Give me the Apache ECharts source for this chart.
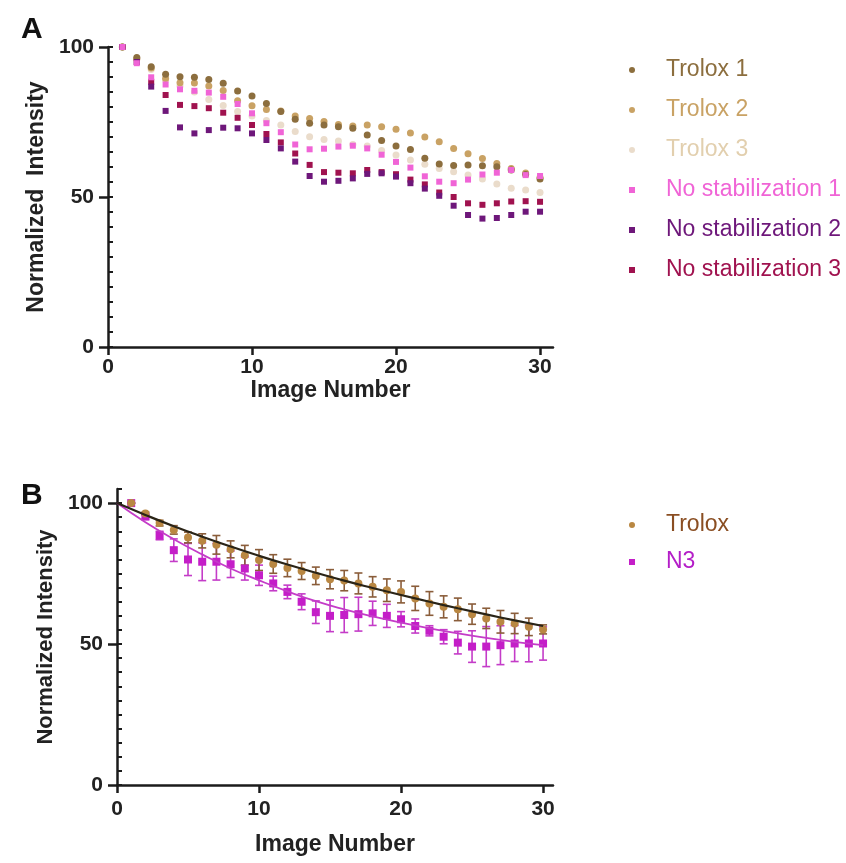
<!DOCTYPE html>
<html>
<head>
<meta charset="utf-8">
<script src="https://cdn.jsdelivr.net/npm/echarts@6/dist/echarts.min.js"></script>
<style>
  html, body { margin: 0; padding: 0; background: #fff; }
  #chart { width: 846px; height: 863px; }
</style>
</head>
<body>
<div id="chart"></div>
<script>
// x values (image number)
const imageNumbers = [1, 2, 3, 4, 5, 6, 7, 8, 9, 10, 11, 12, 13, 14, 15, 16, 17, 18, 19, 20, 21, 22, 23, 24, 25, 26, 27, 28, 29, 30]

// panel A - individual runs
const trolox1 = [100, 96.5, 93.4, 90.9, 90.1, 89.9, 89.2, 87.9, 85.3, 83.7, 81.2, 78.5, 75.9, 74.6, 74.0, 73.4, 72.9, 70.7, 68.8, 67.0, 65.8, 62.9, 61.0, 60.5, 60.7, 60.4, 60.1, 59.0, 57.5, 56.0]
const trolox2 = [100, 96.0, 93.0, 89.5, 88.1, 88.0, 87.0, 85.5, 82.1, 80.4, 79.2, 78.7, 77.0, 76.2, 75.2, 74.2, 73.7, 74.0, 73.4, 72.6, 71.3, 70.0, 68.4, 66.2, 64.4, 62.8, 61.2, 59.5, 58.0, 56.5]
const trolox3 = [100, 96.0, 92.5, 89.0, 87.0, 85.0, 82.5, 80.5, 78.5, 77.0, 75.5, 74.0, 71.8, 70.1, 69.2, 68.7, 67.5, 67.0, 65.5, 64.0, 62.3, 60.9, 59.5, 58.4, 57.3, 56.0, 54.3, 52.9, 52.3, 51.5]
const noStab1 = [100, 94.6, 89.9, 87.5, 85.9, 85.4, 84.8, 83.4, 81.0, 77.9, 74.6, 71.6, 67.5, 65.9, 66.1, 66.8, 67.1, 66.2, 64.1, 61.7, 59.8, 56.9, 55.1, 54.6, 55.8, 57.5, 58.1, 59.0, 57.3, 57.0]
const noStab2 = [100, 95.0, 86.8, 78.7, 73.2, 71.2, 72.3, 73.1, 72.9, 71.2, 69.0, 66.2, 61.8, 57.0, 55.1, 55.4, 56.2, 57.7, 57.9, 56.8, 54.6, 52.8, 50.4, 47.1, 44.0, 42.8, 43.0, 44.0, 45.1, 45.1]
const noStab3 = [100, 95.0, 88.4, 84.0, 80.7, 80.3, 79.6, 78.1, 76.4, 74.0, 71.0, 68.2, 64.5, 60.7, 58.3, 58.1, 57.9, 59.0, 58.3, 57.6, 55.8, 54.2, 51.5, 50.0, 47.9, 47.4, 47.9, 48.5, 48.6, 48.4]

// panel B - mean +/- error
const troloxMean = [100, 96.3, 92.9, 90.5, 87.8, 86.6, 85.2, 83.6, 81.5, 79.8, 78.4, 77.0, 75.9, 74.2, 73.0, 72.5, 71.5, 70.3, 69.1, 68.5, 66.2, 64.4, 63.2, 62.3, 60.6, 59.1, 57.9, 57.3, 56.1, 55.2]
const troloxErr = [0, 0.5, 1.0, 1.5, 1.9, 2.5, 3.3, 3.0, 3.5, 3.7, 3.3, 3.1, 3.0, 3.1, 3.4, 3.6, 3.7, 3.6, 4.0, 3.9, 4.3, 4.2, 3.9, 4.0, 3.6, 3.6, 4.0, 3.6, 3.1, 1.6]
const n3Mean = [100, 95.2, 88.5, 83.3, 80.0, 79.2, 79.2, 78.3, 76.8, 74.4, 71.5, 68.5, 65.0, 61.3, 60.0, 60.3, 60.6, 60.9, 60.0, 58.8, 56.4, 54.7, 52.6, 50.5, 49.1, 49.1, 49.6, 50.2, 50.2, 50.2]
const n3Err = [0, 0.8, 1.5, 4.0, 5.7, 6.7, 6.5, 4.7, 4.1, 3.6, 2.6, 2.4, 2.8, 4.0, 5.6, 6.2, 6.0, 4.3, 4.1, 2.7, 2.5, 1.8, 2.5, 4.0, 5.6, 7.1, 6.9, 6.4, 6.5, 5.9]

// fitted decay curves
const fitX = [0, 2, 4, 6, 8, 10, 12, 14, 16, 18, 20, 22, 24, 26, 28, 30]
const troloxFit = [100, 95.8, 91.8, 88.1, 84.6, 81.3, 78.2, 75.3, 72.5, 69.9, 67.4, 65.0, 62.7, 60.5, 58.4, 56.4]
const n3Fit = [100, 93.2, 87.2, 81.8, 76.8, 72.6, 68.7, 65.2, 62.3, 59.8, 57.6, 55.6, 53.8, 52.2, 50.8, 49.6]

// tick values
const yLabels = [0, 50, 100]
const yMinorA = [0, 5, 10, 15, 20, 25, 30, 35, 40, 45, 50, 55, 60, 65, 70, 75, 80, 85, 90, 95, 100]
const yMinorB = [0, 5, 10, 15, 20, 25, 30, 35, 40, 45, 50, 55, 60, 65, 70, 75, 80, 85, 90, 95, 100, 105]
const xLabels = [0, 10, 20, 30]

const FONT = '"Liberation Sans", Arial, sans-serif'
const AXIS_COLOR = '#1b1b1b'

const colors = {
  trolox1: '#8c6e3e',
  trolox2: '#c9a264',
  trolox3: '#eadccb',
  noStab1: '#f064d6',
  noStab2: '#6e177a',
  noStab3: '#a0124f',
  trolox: '#b98742',
  troloxBar: '#8a5d3a',
  troloxLine: '#2a2417',
  n3: '#c41ec8',
  n3Line: '#c43cc8'
}

const pairs = (xs, ys) => xs.map((x, i) => [x, ys[i]])
const bars = (xs, m, e) => xs.map((x, i) => [x, m[i] - e[i], m[i] + e[i]])

function errorBar(color) {
  return function (params, api) {
    const x = api.value(0)
    const lo = api.coord([x, api.value(1)])
    const hi = api.coord([x, api.value(2)])
    const cap = 4
    const style = { stroke: color, lineWidth: 1.6 }
    return {
      type: 'group',
      children: [
        { type: 'line', shape: { x1: lo[0], y1: lo[1], x2: hi[0], y2: hi[1] }, style },
        { type: 'line', shape: { x1: lo[0] - cap, y1: lo[1], x2: lo[0] + cap, y2: lo[1] }, style },
        { type: 'line', shape: { x1: hi[0] - cap, y1: hi[1], x2: hi[0] + cap, y2: hi[1] }, style }
      ]
    }
  }
}

function xAxis(gridIndex, max, nameGap, margin) {
  return {
    type: 'value', gridIndex, min: 0, max,
    name: 'Image Number', nameLocation: 'middle', nameGap,
    nameTextStyle: { fontFamily: FONT, fontWeight: 'bold', fontSize: 23, color: '#222' },
    axisLine: { onZero: false, lineStyle: { color: AXIS_COLOR, width: 2.5 } },
    axisTick: { length: 8, lineStyle: { color: AXIS_COLOR, width: 2.5 }, customValues: xLabels },
    axisLabel: { customValues: xLabels, margin, fontFamily: FONT, fontWeight: 'bold', fontSize: 21, color: '#222' },
    splitLine: { show: false }
  }
}

function yAxisMajor(gridIndex, max, nameGap, name, size) {
  return {
    type: 'value', gridIndex, min: 0, max,
    name, nameLocation: 'middle', nameGap,
    nameTextStyle: { fontFamily: FONT, fontWeight: 'bold', fontSize: size, color: '#222' },
    axisLine: { onZero: false, lineStyle: { color: AXIS_COLOR, width: 2.5 } },
    axisTick: { length: 9, lineStyle: { color: AXIS_COLOR, width: 2.5 }, customValues: yLabels },
    axisLabel: { customValues: yLabels, margin: 14, fontFamily: FONT, fontWeight: 'bold', fontSize: 21, color: '#222' },
    splitLine: { show: false }
  }
}

// second axis only for the short ticks
function yAxisMinor(gridIndex, max, ticks) {
  return {
    type: 'value', gridIndex, min: 0, max,
    axisLine: { show: false },
    axisTick: { length: 5, lineStyle: { color: AXIS_COLOR, width: 2 }, customValues: ticks },
    axisLabel: { show: false },
    splitLine: { show: false }
  }
}

function legendItem(name, color) {
  return { name, textStyle: { color } }
}

const legendText = { fontFamily: FONT, fontSize: 23, lineHeight: 24, padding: [0, 0, 0, 26] }

const option = {
  animation: false,
  backgroundColor: '#fff',
  title: [
    { text: 'A', left: 16, top: 10, textStyle: { fontFamily: FONT, fontWeight: 'bold', fontSize: 30, color: '#111' } },
    { text: 'B', left: 16, top: 476, textStyle: { fontFamily: FONT, fontWeight: 'bold', fontSize: 30, color: '#111' } }
  ],
  grid: [
    { left: 108, top: 47, width: 445, height: 300 },
    { left: 117, top: 489, width: 436, height: 296 }
  ],
  xAxis: [xAxis(0, 30.9, 26, 10), xAxis(1, 30.7, 48, 14)],
  yAxis: [
    yAxisMajor(0, 100, 58, 'Normalized  Intensity', 23),
    yAxisMinor(0, 100, yMinorA),
    yAxisMajor(1, 105, 50, 'Normalized Intensity', 22),
    yAxisMinor(1, 105, yMinorB)
  ],
  legend: [
    {
      orient: 'vertical', left: 624, top: 53, itemWidth: 6, itemHeight: 6, itemGap: 16,
      textStyle: legendText,
      data: [
        legendItem('Trolox 1', colors.trolox1),
        legendItem('Trolox 2', colors.trolox2),
        legendItem('Trolox 3', '#e2cfae'),
        legendItem('No stabilization 1', colors.noStab1),
        legendItem('No stabilization 2', colors.noStab2),
        legendItem('No stabilization 3', colors.noStab3)
      ]
    },
    {
      orient: 'vertical', left: 624, top: 508, itemWidth: 6, itemHeight: 6, itemGap: 13,
      textStyle: legendText,
      data: [
        legendItem('Trolox', '#8a4e22'),
        legendItem('N3', '#b41ec8')
      ]
    }
  ],
  series: [
    { name: 'Trolox 3', type: 'scatter', xAxisIndex: 0, yAxisIndex: 0, symbol: 'circle', symbolSize: 7, itemStyle: { color: colors.trolox3, opacity: 1 }, data: pairs(imageNumbers, trolox3) },
    { name: 'Trolox 2', type: 'scatter', xAxisIndex: 0, yAxisIndex: 0, symbol: 'circle', symbolSize: 7, itemStyle: { color: colors.trolox2, opacity: 1 }, data: pairs(imageNumbers, trolox2) },
    { name: 'Trolox 1', type: 'scatter', xAxisIndex: 0, yAxisIndex: 0, symbol: 'circle', symbolSize: 7, itemStyle: { color: colors.trolox1, opacity: 1 }, data: pairs(imageNumbers, trolox1) },
    { name: 'No stabilization 3', type: 'scatter', xAxisIndex: 0, yAxisIndex: 0, symbol: 'rect', symbolSize: 6, itemStyle: { color: colors.noStab3, opacity: 1 }, data: pairs(imageNumbers, noStab3) },
    { name: 'No stabilization 2', type: 'scatter', xAxisIndex: 0, yAxisIndex: 0, symbol: 'rect', symbolSize: 6, itemStyle: { color: colors.noStab2, opacity: 1 }, data: pairs(imageNumbers, noStab2) },
    { name: 'No stabilization 1', type: 'scatter', xAxisIndex: 0, yAxisIndex: 0, symbol: 'rect', symbolSize: 6, itemStyle: { color: colors.noStab1, opacity: 1 }, data: pairs(imageNumbers, noStab1) },

    // panel B
    { name: 'N3 err', type: 'custom', xAxisIndex: 1, yAxisIndex: 2, renderItem: errorBar(colors.n3Line), data: bars(imageNumbers, n3Mean, n3Err), z: 2 },
    { name: 'Trolox err', type: 'custom', xAxisIndex: 1, yAxisIndex: 2, renderItem: errorBar(colors.troloxBar), data: bars(imageNumbers, troloxMean, troloxErr), z: 2 },
    { name: 'N3', type: 'scatter', xAxisIndex: 1, yAxisIndex: 2, symbol: 'rect', symbolSize: 8, itemStyle: { color: colors.n3, opacity: 1 }, data: pairs(imageNumbers, n3Mean), z: 3 },
    { name: 'Trolox', type: 'scatter', xAxisIndex: 1, yAxisIndex: 2, symbol: 'circle', symbolSize: 8, itemStyle: { color: colors.trolox, opacity: 1 }, data: pairs(imageNumbers, troloxMean), z: 3 },
    { name: 'N3 fit', type: 'line', xAxisIndex: 1, yAxisIndex: 2, smooth: true, showSymbol: false, lineStyle: { color: colors.n3Line, width: 1.8 }, data: pairs(fitX, n3Fit), z: 4 },
    { name: 'Trolox fit', type: 'line', xAxisIndex: 1, yAxisIndex: 2, smooth: true, showSymbol: false, lineStyle: { color: colors.troloxLine, width: 2.2 }, data: pairs(fitX, troloxFit), z: 4 }
  ]
}

const myChart = echarts.init(document.getElementById('chart'), null, { renderer: 'canvas' })
myChart.setOption(option)
</script>
</body>
</html>
